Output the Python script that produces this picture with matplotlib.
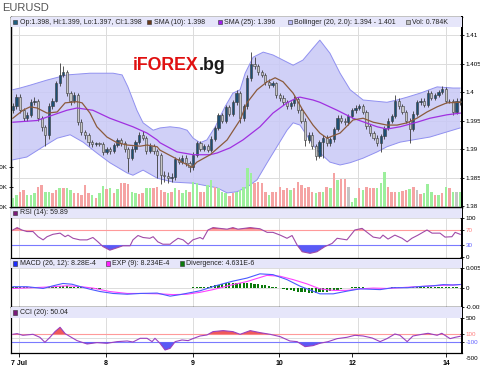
import numpy as np
import matplotlib
matplotlib.use('Agg')
import matplotlib.pyplot as plt
from matplotlib import font_manager
from matplotlib.patches import Rectangle
from matplotlib.transforms import blended_transform_factory

names = {f.name for f in font_manager.fontManager.ttflist}
if 'Liberation Sans Narrow' in names:
    FONT, FS = 'Liberation Sans Narrow', 6.0
else:
    FONT, FS = 'Liberation Sans', 5.0
plt.rcParams['font.family'] = [FONT, 'DejaVu Sans']

# ---- hourly EURUSD candles ----
opens = [1.3968, 1.3975, 1.3991, 1.3968, 1.3955, 1.3960, 1.3982, 1.3985, 1.3955, 1.3938,
         1.3925, 1.3975, 1.3985, 1.4015, 1.4030, 1.4035, 1.3998, 1.3985, 1.3995, 1.3948,
         1.3930, 1.3925, 1.3912, 1.3908, 1.3910, 1.3909, 1.3895, 1.3900, 1.3897, 1.3907,
         1.3915, 1.3910, 1.3900, 1.3885, 1.3900, 1.3912, 1.3925, 1.3920, 1.3897, 1.3905,
         1.3897, 1.3890, 1.3855, 1.3852, 1.3850, 1.3851, 1.3882, 1.3878, 1.3885, 1.3875,
         1.3868, 1.3890, 1.3910, 1.3900, 1.3905, 1.3898, 1.3918, 1.3937, 1.3960, 1.3950,
         1.3973, 1.3962, 1.3982, 1.3998, 1.3955, 1.3975, 1.4025, 1.4050, 1.4045, 1.4035,
         1.4030, 1.4018, 1.4012, 1.4015, 1.3995, 1.3990, 1.3982, 1.3975, 1.3980, 1.3988,
         1.3968, 1.3950, 1.3915, 1.3925, 1.3905, 1.3888, 1.3912, 1.3920, 1.3910, 1.3917,
         1.3935, 1.3955, 1.3950, 1.3947, 1.3958, 1.3968, 1.3972, 1.3975, 1.3965, 1.3940,
         1.3928, 1.3920, 1.3910, 1.3922, 1.3937, 1.3950, 1.3958, 1.3985, 1.3975, 1.3965,
         1.3950, 1.3935, 1.3962, 1.3982, 1.3985, 1.3978, 1.3998, 1.3990, 1.3995, 1.4000,
         1.4005, 1.3985, 1.3984, 1.3965, 1.3985]
highs = [1.3980, 1.3996, 1.3997, 1.3972, 1.3965, 1.3987, 1.3992, 1.3988, 1.3958, 1.3942,
         1.3980, 1.3990, 1.4020, 1.4051, 1.4045, 1.4038, 1.4002, 1.4000, 1.3998, 1.3952,
         1.3934, 1.3928, 1.3916, 1.3913, 1.3913, 1.3912, 1.3904, 1.3903, 1.3911, 1.3920,
         1.3919, 1.3914, 1.3904, 1.3905, 1.3916, 1.3930, 1.3932, 1.3923, 1.3910, 1.3908,
         1.3900, 1.3893, 1.3862, 1.3860, 1.3858, 1.3886, 1.3886, 1.3889, 1.3889, 1.3879,
         1.3894, 1.3914, 1.3914, 1.3909, 1.3909, 1.3922, 1.3941, 1.3964, 1.3964, 1.3977,
         1.3977, 1.3986, 1.4003, 1.4001, 1.3979, 1.4030, 1.4070, 1.4062, 1.4050, 1.4038,
         1.4033, 1.4022, 1.4019, 1.4018, 1.3999, 1.3994, 1.3986, 1.3984, 1.3993, 1.3992,
         1.3972, 1.3954, 1.3930, 1.3929, 1.3909, 1.3916, 1.3925, 1.3924, 1.3921, 1.3939,
         1.3960, 1.3959, 1.3954, 1.3962, 1.3972, 1.3977, 1.3979, 1.3979, 1.3968, 1.3944,
         1.3932, 1.3924, 1.3926, 1.3941, 1.3954, 1.3962, 1.3995, 1.3990, 1.3979, 1.3969,
         1.3954, 1.3966, 1.3986, 1.3990, 1.3989, 1.4003, 1.4002, 1.3999, 1.4004, 1.4010,
         1.4008, 1.3988, 1.3987, 1.3989, 1.3989]
lows = [1.3963, 1.3971, 1.3963, 1.3950, 1.3950, 1.3957, 1.3978, 1.3950, 1.3932, 1.3905,
        1.3918, 1.3970, 1.3982, 1.4010, 1.4026, 1.3993, 1.3978, 1.3980, 1.3943, 1.3925,
        1.3918, 1.3906, 1.3904, 1.3905, 1.3905, 1.3890, 1.3891, 1.3892, 1.3893, 1.3903,
        1.3906, 1.3895, 1.3860, 1.3880, 1.3895, 1.3908, 1.3915, 1.3892, 1.3893, 1.3892,
        1.3850, 1.3838, 1.3842, 1.3840, 1.3842, 1.3846, 1.3873, 1.3874, 1.3870, 1.3860,
        1.3864, 1.3886, 1.3896, 1.3896, 1.3894, 1.3895, 1.3914, 1.3933, 1.3946, 1.3946,
        1.3958, 1.3958, 1.3978, 1.3945, 1.3950, 1.3970, 1.4020, 1.4040, 1.4030, 1.4026,
        1.4013, 1.4007, 1.4008, 1.3990, 1.3985, 1.3977, 1.3970, 1.3971, 1.3976, 1.3963,
        1.3945, 1.3905, 1.3910, 1.3900, 1.3880, 1.3884, 1.3885, 1.3905, 1.3906, 1.3913,
        1.3931, 1.3946, 1.3943, 1.3943, 1.3954, 1.3964, 1.3968, 1.3961, 1.3936, 1.3923,
        1.3915, 1.3905, 1.3895, 1.3918, 1.3933, 1.3946, 1.3954, 1.3971, 1.3961, 1.3945,
        1.3910, 1.3931, 1.3958, 1.3978, 1.3973, 1.3974, 1.3986, 1.3986, 1.3991, 1.3996,
        1.3980, 1.3980, 1.3960, 1.3961, 1.3978]
closes = [1.3975, 1.3991, 1.3968, 1.3955, 1.3960, 1.3982, 1.3985, 1.3955, 1.3938, 1.3925,
          1.3975, 1.3985, 1.4015, 1.4030, 1.4035, 1.3998, 1.3985, 1.3995, 1.3948, 1.3930,
          1.3925, 1.3912, 1.3908, 1.3910, 1.3909, 1.3895, 1.3900, 1.3897, 1.3907, 1.3915,
          1.3910, 1.3900, 1.3885, 1.3900, 1.3912, 1.3925, 1.3920, 1.3897, 1.3905, 1.3897,
          1.3890, 1.3855, 1.3852, 1.3850, 1.3851, 1.3882, 1.3878, 1.3885, 1.3875, 1.3868,
          1.3890, 1.3910, 1.3900, 1.3905, 1.3898, 1.3918, 1.3937, 1.3960, 1.3950, 1.3973,
          1.3962, 1.3982, 1.3998, 1.3955, 1.3975, 1.4025, 1.4050, 1.4045, 1.4035, 1.4030,
          1.4018, 1.4012, 1.4015, 1.3995, 1.3990, 1.3982, 1.3975, 1.3980, 1.3988, 1.3968,
          1.3950, 1.3915, 1.3925, 1.3905, 1.3888, 1.3912, 1.3920, 1.3910, 1.3917, 1.3935,
          1.3955, 1.3950, 1.3947, 1.3958, 1.3968, 1.3972, 1.3975, 1.3965, 1.3940, 1.3928,
          1.3920, 1.3910, 1.3922, 1.3937, 1.3950, 1.3958, 1.3985, 1.3975, 1.3965, 1.3950,
          1.3935, 1.3962, 1.3982, 1.3985, 1.3978, 1.3998, 1.3990, 1.3995, 1.4000, 1.4005,
          1.3985, 1.3984, 1.3965, 1.3985, 1.3982]

# volume in K, and bar colour code (g / r / n)
volume = [0.45, 0.60, 0.75, 0.85, 0.60, 0.60, 0.70, 1.00, 1.10, 0.75,
          0.75, 0.70, 0.85, 0.95, 0.95, 0.95, 0.85, 0.70, 0.70, 0.60,
          1.10, 0.70, 0.60, 0.45, 0.70, 1.05, 0.90, 0.95, 0.70, 0.90,
          1.20, 1.20, 1.15, 0.75, 0.70, 0.65, 0.70, 0.95, 0.95, 0.95,
          1.00, 0.85, 0.77, 0.68, 0.77, 0.93, 0.85, 0.68, 0.85, 0.77,
          1.27, 1.18, 0.77, 0.77, 1.10, 1.35, 1.02, 0.93, 0.77, 0.68,
          0.55, 0.68, 0.77, 0.85, 1.02, 1.93, 1.68, 1.18, 1.27, 1.18,
          0.77, 0.60, 0.77, 0.77, 1.02, 0.85, 0.93, 0.85, 0.93, 1.27,
          1.10, 0.93, 1.02, 0.77, 0.68, 0.77, 0.77, 1.02, 0.93, 1.72,
          1.35, 1.38, 1.38, 1.02, 0.27, 0.43, 0.93, 0.85, 1.02, 0.97,
          0.97, 0.93, 1.18, 1.77, 1.02, 0.77, 0.77, 0.77, 0.80, 0.85,
          0.90, 0.98, 0.85, 0.65, 0.68, 1.15, 0.77, 0.60, 0.60, 0.72,
          1.02, 0.93, 0.77, 0.77, 0.77]
vol_dir = ("ggrrgggrrggrrgrggrrrrrgrggrgrgrrrggrrggrr"
           "rrgrgrggrggrrggrgggrrgggggrrrrgrrrrrgrrrrrrgr"
           "grgrgrrnggrgrrrgggrrrgrrgrnrgggrgrgrgn")

# indicator traces (x = candle index)
sma10_x = [0, 2.8, 4.8, 6.7, 9.5, 12.3, 14.5, 17.8, 19.2, 21.4, 23.3, 26.1, 28.9, 31.7, 35.3, 37.2,
           40.0, 40.8, 44.4, 47.2, 49.7, 51.0, 54.7, 59.4, 63.0, 64.9, 67.7, 70.5, 72.7, 74.9, 77.7,
           80.4, 83.2, 85.1, 87.1, 90.7, 94.3, 97.1, 99.9, 103.7, 106.5, 109.3, 112.0, 114.8, 117.6,
           120.3, 124.0]
sma10_y = [1.3954, 1.3968, 1.3974, 1.3972, 1.3963, 1.3965, 1.3981, 1.3983, 1.3981, 1.3963, 1.3939,
           1.3921, 1.3911, 1.3907, 1.3905, 1.3907, 1.3904, 1.3898, 1.3886, 1.3876, 1.3868, 1.3877,
           1.3890, 1.3916, 1.3951, 1.3981, 1.4004, 1.4018, 1.4025, 1.4018, 1.3998, 1.3968, 1.3942,
           1.3928, 1.3919, 1.3928, 1.3951, 1.3954, 1.3947, 1.3942, 1.3942, 1.3946, 1.3954, 1.3965,
           1.3974, 1.3981, 1.3982]
sma25_x = [0, 6.7, 15.0, 17.8, 22.2, 26.9, 33.3, 37.2, 40.0, 40.8, 45.5, 50.0, 54.7, 56.6, 60.2,
           63.8, 68.5, 72.1, 76.0, 78.8, 79.6, 83.2, 85.1, 89.9, 94.3, 101.0, 103.7, 107.3, 112.0,
           115.6, 120.3, 124.0]
sma25_y = [1.3947, 1.3950, 1.3968, 1.3972, 1.3968, 1.3954, 1.3939, 1.3928, 1.3916, 1.3911, 1.3895,
           1.3890, 1.3890, 1.3893, 1.3902, 1.3916, 1.3939, 1.3963, 1.3981, 1.3990, 1.3991, 1.3986,
           1.3982, 1.3968, 1.3954, 1.3939, 1.3935, 1.3939, 1.3947, 1.3954, 1.3960, 1.3963]
bb_up_x = [0, 2.0, 4.8, 9.5, 15.0, 21.4, 27.8, 30.3, 31.9, 34.4, 36.1, 38.9, 40.8, 43.6, 46.3,
           48.3, 50.0, 51.9, 53.8, 56.1, 58.8, 61.0, 63.0, 64.4, 66.6, 69.4, 72.1, 74.9, 77.7, 80.4,
           83.2, 85.1, 87.9, 90.7, 93.5, 97.1, 103.7, 106.5, 109.3, 112.9, 117.6, 122.0, 124.0]
bb_up_y = [1.4004, 1.4007, 1.4012, 1.4021, 1.4030, 1.4033, 1.4033, 1.4030, 1.4009, 1.3968, 1.3946,
           1.3933, 1.3937, 1.3939, 1.3937, 1.3933, 1.3919, 1.3911, 1.3916, 1.3939, 1.3974, 1.3998,
           1.4004, 1.4033, 1.4061, 1.4070, 1.4065, 1.4056, 1.4047, 1.4056, 1.4077, 1.4091, 1.4068,
           1.4033, 1.4004, 1.3986, 1.3982, 1.3986, 1.3991, 1.3998, 1.4009, 1.4007, 1.4007]
bb_lo_x = [0, 3.9, 8.4, 12.3, 15.9, 19.5, 23.3, 26.9, 31.7, 33.3, 36.1, 40.0, 44.4, 50.0, 56.6,
           59.4, 62.1, 64.9, 67.7, 70.5, 73.2, 76.0, 77.7, 79.6, 81.8, 84.3, 87.9, 90.7, 93.5, 97.1,
           101.0, 103.7, 107.3, 110.9, 115.6, 120.3, 124.0]
bb_lo_y = [1.3881, 1.3886, 1.3904, 1.3919, 1.3925, 1.3912, 1.3893, 1.3876, 1.3858, 1.3854, 1.3863,
           1.3849, 1.3842, 1.3840, 1.3832, 1.3823, 1.3825, 1.3833, 1.3846, 1.3876, 1.3904, 1.3933,
           1.3946, 1.3942, 1.3921, 1.3898, 1.3877, 1.3872, 1.3876, 1.3884, 1.3895, 1.3904, 1.3912,
           1.3916, 1.3921, 1.3930, 1.3937]

rsi_x = [0, 1.2, 2.5, 3.9, 5.6, 7.0, 8.4, 9.5, 11.1, 13.1, 14.5, 15.3, 16.7, 18.6, 20.6, 22.2,
         23.6, 25.0, 26.9, 28.9, 30.5, 32.5, 33.3, 34.7, 36.1, 38.0, 38.9, 40.2, 41.6, 43.6, 44.4,
         45.8, 47.2, 48.6, 49.9, 51.9, 52.7, 54.1, 55.5, 57.4, 59.4, 61.0, 62.4, 65.8, 68.5, 70.5,
         72.1, 74.1, 76.0, 77.4, 78.8, 80.2, 82.4, 84.3, 86.5, 88.5, 89.9, 92.6, 94.8, 96.8, 98.2,
         99.9, 101.8, 102.6, 104.0, 105.9, 107.9, 109.3, 110.6, 112.3, 114.8, 116.2, 118.4, 119.8,
         121.7, 122.6, 124.0]
rsi_y = [69, 75, 69, 65, 65, 52, 44, 52, 58, 61, 52, 56, 48, 44, 44, 50, 39, 27, 18, 24, 29, 29,
         44, 55, 50, 48, 52, 39, 33, 33, 39, 48, 44, 33, 44, 50, 46, 69, 75, 73, 71, 75, 71, 75,
         72, 63, 63, 56, 48, 55, 31, 14, 10, 14, 27, 35, 48, 44, 69, 73, 63, 51, 48, 56, 46, 56,
         48, 39, 48, 56, 69, 61, 61, 51, 52, 63, 58]

# MACD, signal and divergence in units of 1e-4
macd_x = [0, 3.9, 8.4, 11.2, 13.9, 16.4, 18.6, 21.4, 24.2, 27.8, 31.7, 35.3, 40.0, 43.6, 46.4,
          51.9, 56.6, 61.0, 64.9, 68.5, 72.1, 76.0, 79.6, 83.2, 85.1, 88.8, 92.6, 96.2, 101.8,
          105.4, 109.3, 112.9, 116.5, 119.3, 122.0, 124.0]
macd_y = [2.6, 2.6, -2, 5, 11, 9, 3, -4, -10, -15, -17, -15, -14, -22, -18,
          -8, 6, 17, 25, 36, 34, 21, 4, -9, -16, -16, -9, -3, -5,
          0, 0, 3, 5, 8, 7, 8.3]
sig_x = [0, 5.6, 10.3, 15.0, 18.6, 22.2, 26.9, 31.7, 36.1, 40.8, 44.4, 48.3, 51.9, 55.5, 61.0,
         64.9, 70.4, 74.0, 77.7, 81.5, 85.1, 88.8, 92.6, 96.2, 99.9, 103.7, 107.3, 110.9, 114.8,
         118.4, 122.0, 124.0]
sig_y = [-2, 0, 2, 5, 3, -1, -10, -15, -15, -16, -18, -17, -12, -5, 8,
         16, 32, 30, 21, 10, -3, -7, -7, -3, -1, -2, 0, 2, 4,
         6, 7, 8.2]
diverg = [3, 3, 3, 3, 3, 2, 2, 1, -1, -1,
          1, 2, 3, 4, 4, 4, 3, 3, 2, 1,
          -1, -2, -3, -3, -3, -2,
          -2, -2, -2, -2, -2, -2, -2, -1, -1, -1, -1, -1,
          -1, -1, -1, -1, -1, -2, -2, -1,
          0, 0, 0, 0, 1, 1, 1, 1, 2,
          4, 6, 8, 10, 11, 12, 13, 13, 13, 12, 12, 11, 10, 9, 8, 6, 5, 3, 1,
          -1, -3, -5, -7, -9, -10, -11, -12, -13, -13, -13, -12, -11, -10, -9, -7, -5, -4, -2, -1,
          1, 2, 2, 1,
          -1, -1, -2, -1, -1, -1, 0,
          1, 1, 1, 1, 1, 2, 2, 1, 1, 1, 1, 1, 2, 2, 2, 2, 1, 1, 1, 0]

cci_x = [0, 1.2, 2.8, 5.6, 7.5, 8.9, 10.3, 11.7, 13.1, 14.5, 15.9, 17.8, 20.6, 23.3, 26.1, 28.9,
         31.7, 33.3, 35.3, 37.2, 38.6, 39.4, 40.8, 42.2, 43.6, 45.0, 46.9, 48.6, 49.9, 51.9, 53.8,
         55.5, 58.3, 61.0, 63.0, 65.8, 68.5, 71.3, 74.1, 76.8, 78.8, 81.0, 83.2, 85.1, 87.4, 89.9,
         92.6, 94.8, 97.1, 99.6, 101.8, 103.7, 105.9, 107.3, 109.3, 110.9, 113.4, 115.1, 117.6,
         118.9, 121.2, 122.6, 124.0]
cci_y = [100, 117, 75, 100, 25, -100, 25, 167, 275, 117, 42, -58, -142, -108, -125, -83, -67,
         -92, 0, 0, -83, 0, -125, -292, -250, -83, -42, -58, -8, 58, 83, 167, 192, 167, 100, 192,
         142, 100, 42, -67, -83, -208, -183, -125, -83, -8, 25, 75, 58, 8, -83, -8, 108, 75, -83,
         58, 100, 125, 75, 125, -8, 25, 50]

day_grid = [1.72, 25.83, 49.94, 73.78, 95.68, 120.07]
day_ticks = [1.72, 25.83, 49.94, 73.78, 94.15, 120.07]
day_labels = ['7 Jul', '8', '9', '10', '12', '14']

# ---- layout in pixels ----
W, H = 480, 370
L, R = 11, 462
VOL_TOP = 9.5   # K at top of price panel


def rect(top, bottom):
    return [L / W, 1 - bottom / H, (R - L) / W, (bottom - top) / H]


fig = plt.figure(figsize=(4.8, 3.7), dpi=100)
fig.patch.set_facecolor('white')
ax_vol = fig.add_axes(rect(17, 207), zorder=1)
ax_p = fig.add_axes(rect(17, 207), zorder=2)
ax_p.patch.set_visible(False)
ax_rsi = fig.add_axes(rect(208, 258))
ax_macd = fig.add_axes(rect(259, 307))
ax_cci = fig.add_axes(rect(307, 353))

GRID = '#dcdcdc'
for ax in (ax_vol, ax_p, ax_rsi, ax_macd, ax_cci):
    ax.set_xlim(-0.5, 124.5)
    ax.set_xticks([])
    ax.yaxis.tick_right()
    ax.tick_params(axis='y', labelsize=FS - 0.5, length=3, width=0.6, pad=1, direction='inout')
    for s in ax.spines.values():
        s.set_linewidth(0.9)
    ax.spines['right'].set_linewidth(1.4)
for ax in (ax_vol, ax_rsi, ax_macd, ax_cci):
    for d in day_grid:
        ax.axvline(d, color=GRID, lw=0.7, zorder=0)


def header(ax, ax_h, band_h, items):
    f = band_h / ax_h
    ax.add_patch(Rectangle((0, 1 - f), 1, f, transform=ax.transAxes, facecolor='#e6e6fa',
                           edgecolor='none', zorder=6))
    yc = 1 - f / 2
    for xp, col, label in items:
        ax.add_patch(Rectangle(((xp - L) / (R - L), yc - 2.2 / ax_h), 4.4 / (R - L), 4.4 / ax_h,
                               transform=ax.transAxes, facecolor=col, edgecolor='#333333',
                               lw=0.4, zorder=7))
        ax.text((xp + 6.5 - L) / (R - L), yc, label, transform=ax.transAxes, fontsize=FS,
                va='center', ha='left', zorder=7, color='#222222')


# ---- volume scale (left axis) ----
idx = np.arange(len(closes))
ax_vol.set_ylim(0, VOL_TOP)
ax_vol.yaxis.tick_left()
ax_vol.set_yticks([0, 1, 2])
ax_vol.set_yticklabels(['0.0K', '1.0K', '2.0K'])
ax_vol.tick_params(axis='y', labelsize=FS - 0.5, pad=1)

# ---- price panel ----
pt = [1.38, 1.385, 1.39, 1.395, 1.40, 1.405, 1.41]
for v in pt:
    ax_p.axhline(v, color=GRID, lw=0.7, zorder=0)
for d in day_grid:
    ax_p.axvline(d, color=GRID, lw=0.7, zorder=0)

ax_p.fill(np.concatenate([bb_up_x, bb_lo_x[::-1]]), np.concatenate([bb_up_y, bb_lo_y[::-1]]),
          facecolor='#c8c8f6', edgecolor='none', alpha=0.85, zorder=1)
ax_p.plot(bb_up_x, bb_up_y, color='#9090f0', lw=0.7, zorder=2)
ax_p.plot(bb_lo_x, bb_lo_y, color='#9090f0', lw=0.7, zorder=2)

# volume bars sit over the band, under the candles
vcol = {'g': '#9cef9c', 'r': '#f5a3a3', 'n': '#c4c4c4'}
vt = blended_transform_factory(ax_p.transData, ax_p.transAxes)
ax_p.bar(idx, np.array(volume) / VOL_TOP, width=0.68, color=[vcol[ch] for ch in vol_dir],
         transform=vt, zorder=2.5)

o = np.array(opens)
c = np.array(closes)
up = c >= o
ax_p.vlines(idx, lows, highs, color='#3a3a3a', lw=0.6, zorder=3)
body = np.maximum(np.abs(c - o), 0.00006)
ax_p.bar(idx, body, bottom=np.minimum(o, c), width=0.62,
         color=np.where(up, '#1d4f73', '#c6c6c6'), edgecolor='#3a3a3a', linewidth=0.4, zorder=4)

ax_p.plot(sma25_x, sma25_y, color='#a030e0', lw=0.9, zorder=5)
ax_p.plot(sma10_x, sma10_y, color='#8b5a3c', lw=0.9, zorder=5)

ax_p.set_xlim(-0.5, 124.5)
ax_p.set_ylim(1.37983, 1.41316)
ax_p.set_yticks(pt)
ax_p.set_yticklabels(['1.38', '1.385', '1.39', '1.395', '1.4', '1.405', '1.41'])

header(ax_p, 190, 10, [(13, '#1f5f7f', 'Op:1.398, Hi:1.399, Lo:1.397, Cl:1.398'),
                      (147, '#6b3a1a', 'SMA (10): 1.398'),
                      (218, '#a020f0', 'SMA (25): 1.396'),
                      (288, '#b8b8f8', 'Bollinger (20, 2.0): 1.394 - 1.401'),
                      (406, '#bdbdbd', 'Vol: 0.784K')])

t1 = ax_p.text(133 / W, 1 - 70 / H, 'iFOREX', transform=fig.transFigure, color='#e01010',
               fontsize=12.8, fontweight='bold', family='Liberation Sans', va='baseline', zorder=8)
ax_p.annotate('.bg', xy=(1, 0), xycoords=t1, va='bottom', ha='left', color='#1a1a1a',
              fontsize=12.8, fontweight='bold', family='Liberation Sans', zorder=8)
fig.text(2 / W, 1 - 8 / H, 'EURUSD', fontsize=8, color='#555555', va='center', ha='left',
         family='Liberation Sans')

# ---- RSI ----
ax_rsi.set_ylim(-1.8, 124.5)
ax_rsi.set_yticks([0, 30, 70, 100])
ax_rsi.set_yticklabels(['0', '30', '70', '100'])
lab = ax_rsi.get_yticklabels()
lab[1].set_color('#6060ff')
lab[2].set_color('#ff8080')
ax_rsi.axhline(100, color=GRID, lw=0.7, zorder=0)
ax_rsi.axhline(70, color='#ff9a9a', lw=0.8, zorder=1)
ax_rsi.axhline(30, color='#7a7aff', lw=0.8, zorder=1)
rx, ry = np.array(rsi_x), np.array(rsi_y, dtype=float)
ax_rsi.fill_between(rx, ry, 70, where=ry >= 70, interpolate=True, color='#f05a5a', lw=0, zorder=2)
ax_rsi.fill_between(rx, ry, 30, where=ry <= 30, interpolate=True, color='#5a5af5', lw=0, zorder=2)
ax_rsi.plot(rx, ry, color='#a04aa8', lw=0.8, zorder=3)
header(ax_rsi, 50, 10, [(13, '#7a1a7a', 'RSI (14): 59.89')])

# ---- MACD ----
ax_macd.set_ylim(-0.00502, 0.00746)
ax_macd.set_yticks([-0.005, 0, 0.005])
ax_macd.set_yticklabels(['-0.005', '0', '0.005'])
ax_macd.axhline(0.005, color=GRID, lw=0.7, zorder=0)
ax_macd.axhline(0, color=GRID, lw=0.7, zorder=0)
ax_macd.bar(idx, np.array(diverg) * 1e-4, width=0.62, color='#0a7a0a', zorder=2)
ax_macd.plot(sig_x, np.array(sig_y) * 1e-4, color='#ff40ff', lw=0.8, zorder=3)
ax_macd.plot(macd_x, np.array(macd_y) * 1e-4, color='#4a5aff', lw=0.8, zorder=3)
header(ax_macd, 48, 9, [(13, '#1a2aff', 'MACD (26, 12): 8.28E-4'),
                        (106, '#ff20ff', 'EXP (9): 8.234E-4'),
                        (180, '#0a7a0a', 'Divergence: 4.631E-6')])

# ---- CCI ----
ax_cci.set_ylim(-367, 782)
ax_cci.set_yticks([-100, 100, 500])
ax_cci.set_yticklabels(['-100', '100', '500'])
lab = ax_cci.get_yticklabels()
lab[0].set_color('#6060ff')
lab[1].set_color('#ff8080')
ax_cci.annotate('-500', xy=(1, -500), xycoords=('axes fraction', 'data'), xytext=(2.5, 0),
                textcoords='offset points', va='center', ha='left', fontsize=FS - 0.5,
                annotation_clip=False)
ax_cci.axhline(0, color=GRID, lw=0.7, zorder=0)
ax_cci.axhline(100, color='#ff9a9a', lw=0.8, zorder=1)
ax_cci.axhline(-100, color='#7a7aff', lw=0.8, zorder=1)
cx, cy = np.array(cci_x), np.array(cci_y, dtype=float)
ax_cci.fill_between(cx, cy, 100, where=cy >= 100, interpolate=True, color='#f05a5a', lw=0, zorder=2)
ax_cci.fill_between(cx, cy, -100, where=cy <= -100, interpolate=True, color='#5a5af5', lw=0, zorder=2)
ax_cci.plot(cx, cy, color='#9a40c0', lw=0.8, zorder=3)
header(ax_cci, 46, 11, [(13, '#7a1a7a', 'CCI (20): 50.04')])

ax_cci.set_xticks(day_ticks)
ax_cci.set_xticklabels(day_labels, fontweight='bold')
ax_cci.tick_params(axis='x', labelsize=FS, length=3, width=0.6, pad=2)

fig.savefig('out.png', dpi=100)
